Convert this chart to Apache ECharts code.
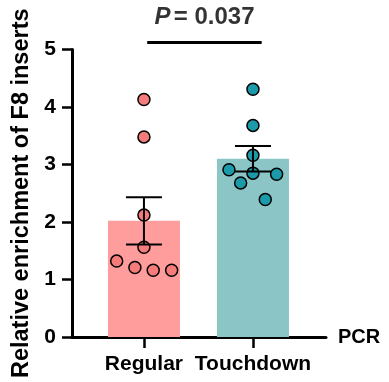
<!DOCTYPE html>
<html>
<head>
<meta charset="utf-8">
<script src="https://cdn.jsdelivr.net/npm/echarts@6/dist/echarts.min.js"></script>
<style>html,body{margin:0;padding:0;background:#fff}#c{width:389px;height:382px}</style>
</head>
<body>
<div id="c"></div>
<script>
// ---- data ----
const categories = ['Regular', 'Touchdown'];
const categoryPos = [1, 2];
const regularValues = [4.13, 3.48, 2.12, 1.56, 1.32, 1.21, 1.16, 1.16];
const regularJitter = [0, 0, 0, 0, -0.25, -0.083, 0.085, 0.254];
const touchdownValues = [4.31, 3.68, 3.16, 2.91, 2.85, 2.83, 2.68, 2.39];
const touchdownJitter = [0, 0, 0, -0.22, 0, 0.217, -0.113, 0.113];
const means = [2.02, 3.10];
const sems = [0.41, 0.22];
const yTicks = [0, 1, 2, 3, 4, 5];
const sigLine = [[1.03, 5.12], [2.08, 5.12]];
const pLabelPos = [1.555, 5.56];
const pText = '0.037';

const barColors = ['#FF9C9C', '#8CC5C6'];
const dotColors = ['#F67C7C', '#1B9BAA'];
const FONT = 'Liberation Sans, Arial, sans-serif';

const chart = echarts.init(document.getElementById('c'), null, {renderer: 'canvas'});

const pts = (vals, jit, pos) => vals.map((v, i) => [pos + jit[i], v]);

const option = {
  animation: false,
  grid: {left: 72, right: 63, top: 49.5, bottom: 45},
  xAxis: {
    type: 'value',
    min: 0.34, max: 2.67,
    name: 'PCR', nameLocation: 'end', nameGap: 12,
    nameTextStyle: {fontFamily: FONT, fontWeight: 'bold', fontSize: 20, color: '#000', verticalAlign: 'middle', padding: [3, 0, 0, 0]},
    axisLine: {show: true, lineStyle: {color: '#000', width: 3}},
    axisTick: {show: true, customValues: categoryPos, length: 11, lineStyle: {color: '#000', width: 2.5}},
    axisLabel: {show: true, customValues: categoryPos, margin: 17,
      formatter: v => categories[categoryPos.indexOf(Math.round(v))] || '',
      fontFamily: FONT, fontWeight: 'bold', fontSize: 21, color: '#000'},
    splitLine: {show: false}
  },
  yAxis: {
    type: 'value', min: 0, max: 5, interval: 1,
    name: 'Relative enrichment of F8 inserts', nameLocation: 'middle', nameGap: 36,
    nameTextStyle: {fontFamily: FONT, fontWeight: 'bold', fontSize: 23.5, color: '#000'},
    axisLine: {show: true, lineStyle: {color: '#000', width: 3}},
    axisTick: {show: true, length: 10, lineStyle: {color: '#000', width: 2.5}},
    axisLabel: {margin: 16, fontFamily: FONT, fontWeight: 'bold', fontSize: 21, color: '#000',
      formatter: v => yTicks.includes(v) ? String(v) : ''},
    splitLine: {show: false}
  },
  series: [
    {
      type: 'bar', barWidth: 72, z: 1,
      data: means.map((m, i) => ({value: [categoryPos[i], m], itemStyle: {color: barColors[i]}}))
    },
    {
      type: 'scatter', symbolSize: 12, z: 3,
      itemStyle: {color: dotColors[0], borderColor: '#000', borderWidth: 1.5, opacity: 1},
      data: pts(regularValues, regularJitter, categoryPos[0])
    },
    {
      type: 'scatter', symbolSize: 12, z: 3,
      itemStyle: {color: dotColors[1], borderColor: '#000', borderWidth: 1.5, opacity: 1},
      data: pts(touchdownValues, touchdownJitter, categoryPos[1])
    },
    {
      type: 'custom', z: 5,
      data: means.map((m, i) => [categoryPos[i], m - sems[i], m + sems[i]]),
      renderItem: (params, api) => {
        const x = api.value(0);
        const lo = api.coord([x, api.value(1)]);
        const hi = api.coord([x, api.value(2)]);
        const hw = 18;
        const st = {stroke: '#000', lineWidth: 2};
        return {type: 'group', children: [
          {type: 'line', shape: {x1: lo[0], y1: lo[1], x2: hi[0], y2: hi[1]}, style: st},
          {type: 'line', shape: {x1: hi[0] - hw, y1: hi[1], x2: hi[0] + hw, y2: hi[1]}, style: st},
          {type: 'line', shape: {x1: lo[0] - hw, y1: lo[1], x2: lo[0] + hw, y2: lo[1]}, style: st}
        ]};
      }
    },
    {
      type: 'line', clip: false, symbol: 'none', z: 5,
      lineStyle: {color: '#000', width: 3},
      data: sigLine
    },
    {
      type: 'scatter', clip: false, symbolSize: 1, z: 6,
      itemStyle: {color: 'rgba(0,0,0,0)'},
      label: {show: true, position: 'inside',
        formatter: '{i|P} {n|= ' + pText + '}',
        rich: {
          i: {fontFamily: FONT, fontWeight: 'bold', fontStyle: 'italic', fontSize: 24, color: '#000'},
          n: {fontFamily: FONT, fontWeight: 'bold', fontSize: 24, color: '#000'}
        }
      },
      data: [pLabelPos]
    }
  ]
};
chart.setOption(option);
</script>
</body>
</html>
